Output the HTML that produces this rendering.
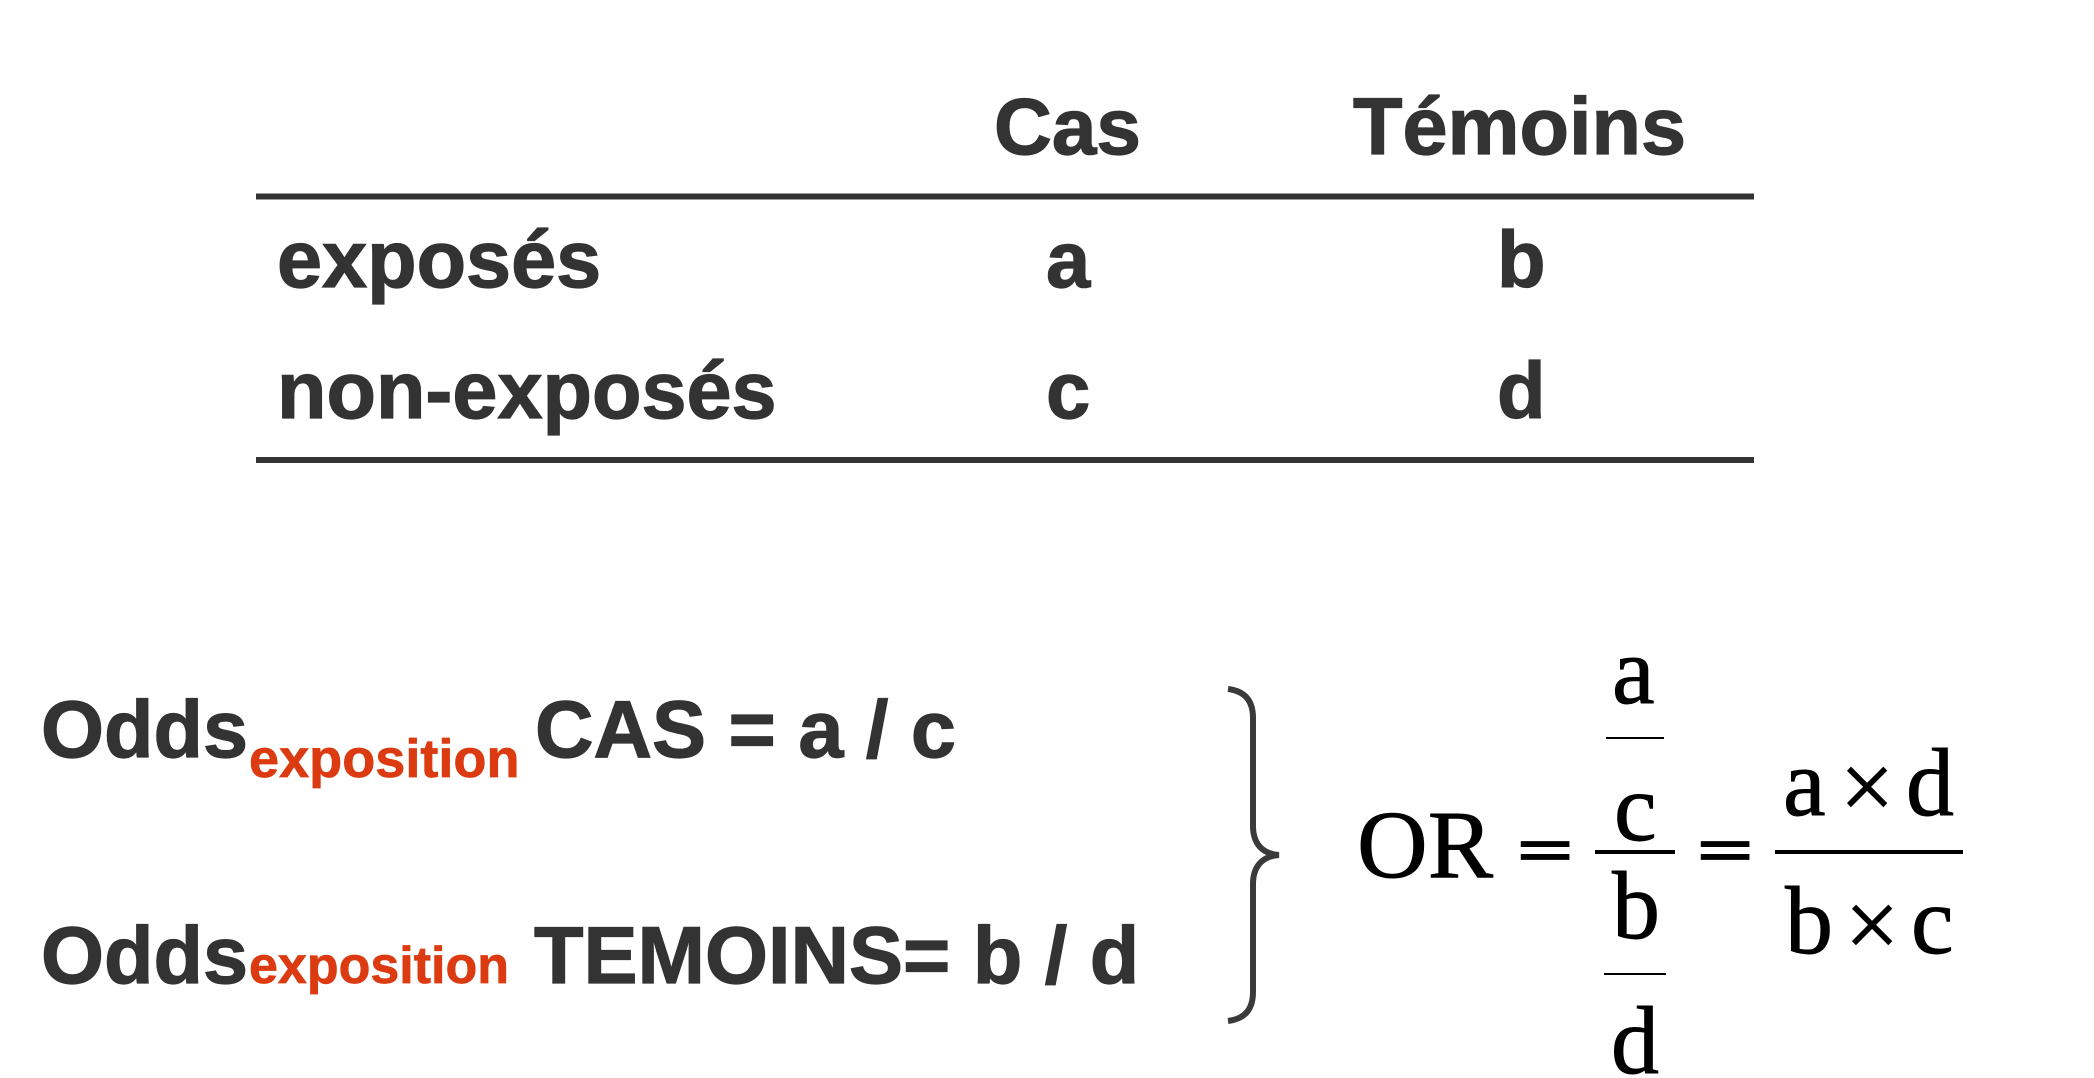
<!DOCTYPE html>
<html><head><meta charset="utf-8"><style>
html,body{margin:0;padding:0;background:#fff}
svg{display:block}
.h{font:bold 81px "Liberation Sans",sans-serif;fill:#333;stroke:#333;stroke-width:1.2px}
.s{font:bold 79.5px "Liberation Sans",sans-serif;fill:#333;stroke:#333;stroke-width:1.2px}
.r{font-family:"Liberation Sans",sans-serif;font-weight:bold;fill:#dc3a10;stroke:#dc3a10;stroke-width:.7px}
.m{font:96px "Liberation Serif",serif;fill:#000;stroke:#000;stroke-width:.9px}
.e{font:96px "Liberation Serif",serif;fill:#000;stroke:#000;stroke-width:4px}
</style></head><body>
<svg width="2094" height="1078" viewBox="0 0 2094 1078" xmlns="http://www.w3.org/2000/svg">
<rect x="256" y="193.5" width="1498" height="6" fill="#333"/>
<rect x="256" y="457" width="1498" height="6" fill="#333"/>
<text class="s" x="994" y="154" textLength="147" lengthAdjust="spacingAndGlyphs">Cas</text>
<text class="h" x="1353" y="154">Témoins</text>
<text class="h" x="277" y="287">exposés</text>
<text class="h" x="277" y="418">non-exposés</text>
<text class="s" x="1046" y="287">a</text>
<text class="s" x="1497" y="287">b</text>
<text class="s" x="1046" y="418">c</text>
<text class="s" x="1497" y="418">d</text>
<text class="h" x="41" y="757">Odds</text>
<text class="r" x="249" y="777" font-size="54.1">exposition</text>
<text class="h" x="535" y="757">CAS = a / c</text>
<text class="h" x="41" y="983">Odds</text>
<text class="r" x="249" y="983" font-size="52">exposition</text>
<text class="h" x="534" y="983">TEMOINS= b / d</text>
<path d="M1228 689C1244 691 1253 700 1253 718V826C1253 843 1262 854 1279 855C1262 856 1253 867 1253 884V992C1253 1010 1244 1019 1228 1021" fill="none" stroke="#3a3a3a" stroke-width="6"/>
<text class="m" x="1357" y="877" textLength="136" lengthAdjust="spacingAndGlyphs">OR</text>
<text class="e" transform="translate(1518,871.4) scale(1,.66)">=</text>
<text class="e" transform="translate(1698,871.4) scale(1,.66)">=</text>
<text class="m" x="1612" y="703">a</text>
<rect x="1606" y="737" width="58" height="2" fill="#000"/>
<text class="m" x="1614" y="840">c</text>
<rect x="1595" y="850" width="80" height="4" fill="#000"/>
<text class="m" x="1612" y="938">b</text>
<rect x="1604" y="973" width="62" height="2" fill="#000"/>
<text class="m" x="1611" y="1073">d</text>
<text class="m" x="1783" y="815">a</text>
<text class="m" x="1840" y="819">×</text>
<text class="m" x="1906" y="815">d</text>
<rect x="1775" y="850" width="188" height="4" fill="#000"/>
<text class="m" x="1785" y="953">b</text>
<text class="m" x="1845" y="957">×</text>
<text class="m" x="1911" y="953">c</text>
</svg>
</body></html>
